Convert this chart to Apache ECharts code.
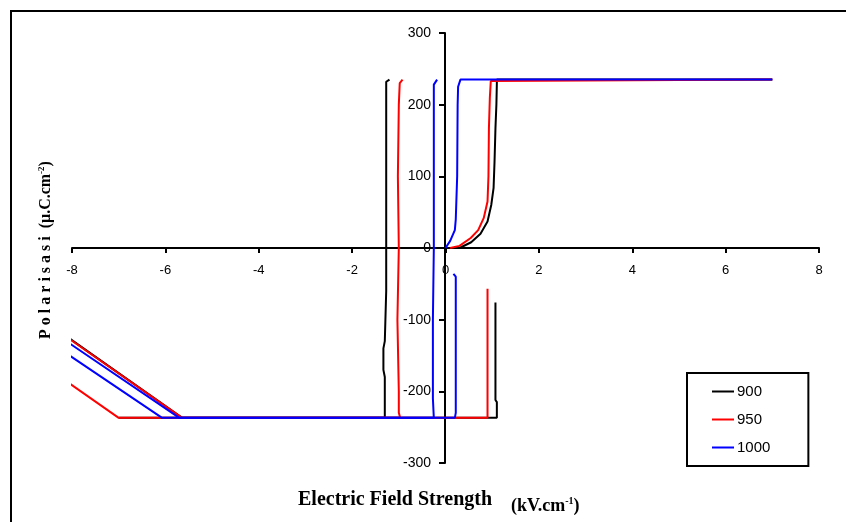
<!DOCTYPE html>
<html>
<head>
<meta charset="utf-8">
<script src="https://cdn.jsdelivr.net/npm/echarts@6/dist/echarts.min.js"></script>
<style>
  html, body { margin: 0; padding: 0; background: #fff; }
  #chart { width: 846px; height: 522px; }
</style>
</head>
<body>
<div id="chart"></div>
<script>
// x ticks and y ticks
const xTicks = [-8, -6, -4, -2, 0, 2, 4, 6, 8];
const yTicks = [-300, -200, -100, 0, 100, 200, 300];
const seriesNames = ['900', '950', '1000'];

// 900 (black) - loop segments [E, P]
const loop900a = [[0, 0], [0.3, 0], [0.55, 8], [0.75, 20], [0.9, 37], [0.98, 60], [1.03, 84], [1.05, 120],
  [1.07, 167], [1.09, 200], [1.1, 230], [1.1, 235], [7, 235]];
const loop900b = [[-1.2, 235], [-1.27, 232], [-1.27, 150], [-1.27, 20], [-1.27, -60], [-1.3, -130],
  [-1.33, -140], [-1.33, -170], [-1.3, -180], [-1.3, -237], [-5.64, -237], [-8.1, -124]];
const loop900c = [[-7.0, -237], [1.1, -237], [1.1, -215], [1.07, -212], [1.07, -76]];

// 950 (red)
const loop950a = [[0.1, 0], [0.3, 3], [0.54, 14], [0.7, 25], [0.82, 42], [0.9, 65], [0.92, 100],
  [0.93, 167], [0.95, 210], [0.97, 233], [0.97, 235], [7, 235]];
const loop950b = [[-0.92, 235], [-0.98, 230], [-1.0, 200], [-1.02, 100], [-1.0, 0], [-1.03, -100],
  [-1.0, -200], [-1.0, -230], [-0.97, -237], [-5.64, -237], [-8.1, -125]];
const loop950c = [[-8.1, -187], [-7.0, -237], [0.9, -237], [0.9, -57]];

// 1000 (blue)
const loop1000a = [[0, 0], [0.1, 10], [0.2, 25], [0.22, 40], [0.25, 100], [0.26, 200], [0.27, 225],
  [0.32, 235], [7, 235]];
const loop1000b = [[-0.18, 235], [-0.25, 228], [-0.25, 100], [-0.25, 0], [-0.27, -100], [-0.27, -210],
  [-0.25, -237], [-5.7, -237], [-8.1, -131]];
const loop1000c = [[-8.1, -148], [-6.07, -237], [0.2, -237], [0.22, -230], [0.22, -40], [0.17, -36]];

const colors = ['#000000', '#ff0000', '#0000ff'];
const segments = [
  [loop900a, loop900b, loop900c],
  [loop950a, loop950b, loop950c],
  [loop1000a, loop1000b, loop1000c]
];

const series = [];
segments.forEach((segs, i) => {
  segs.forEach(d => {
    series.push({
      name: seriesNames[i],
      type: 'line',
      data: d,
      showSymbol: false,
      symbol: 'none',
      lineStyle: { color: colors[i], width: 2 },
      itemStyle: { color: colors[i] },
      animation: false
    });
  });
});

// grid is 746 x 430 px, the axes cross in the middle
const chart = echarts.init(document.getElementById('chart'));
const option = {
  animation: false,
  color: colors,
  grid: { left: 72, right: 27, top: 33, bottom: 59, outerBoundsMode: 'none' },
  xAxis: {
    type: 'value',
    min: xTicks[0],
    max: xTicks[xTicks.length - 1],
    interval: 2,
    offset: -215,
    axisLine: { onZero: false, lineStyle: { color: '#000', width: 2 } },
    axisTick: { show: true, length: 5, inside: false, lineStyle: { color: '#000', width: 2 } },
    axisLabel: { color: '#000', fontFamily: 'Arial, Liberation Sans', fontSize: 13, margin: 16 },
    splitLine: { show: false }
  },
  yAxis: {
    type: 'value',
    min: yTicks[0],
    max: yTicks[yTicks.length - 1],
    interval: 100,
    offset: -373,
    axisLine: { onZero: false, lineStyle: { color: '#000', width: 2 } },
    axisTick: { show: true, length: 6, lineStyle: { color: '#000', width: 2 } },
    axisLabel: { color: '#000', fontFamily: 'Arial, Liberation Sans', fontSize: 14, margin: 14 },
    splitLine: { show: false }
  },
  legend: {
    data: seriesNames,
    orient: 'vertical',
    left: 687,
    top: 373,
    padding: [11, 38, 11, 25],
    itemGap: 13,
    itemWidth: 22,
    itemHeight: 2,
    icon: 'rect',
    borderColor: '#000',
    borderWidth: 2,
    borderRadius: 0,
    textStyle: { color: '#000', fontFamily: 'Arial, Liberation Sans', fontSize: 15, padding: [0, 0, 0, -2] }
  },
  graphic: [
    {
      type: 'rect',
      shape: { x: 11, y: 11, width: 900, height: 600 },
      style: { fill: 'none', stroke: '#000', lineWidth: 2 },
      silent: true
    },
    {
      type: 'text',
      x: 46,
      y: 250,
      rotation: Math.PI / 2,
      style: {
        text: '{a|P o l a r i s a s i  (μ.C.cm}{s|-2}{a|)}',
        align: 'center',
        verticalAlign: 'middle',
        rich: {
          a: { fontFamily: 'Liberation Serif', fontWeight: 'bold', fontSize: 16, fill: '#000' },
          s: { fontFamily: 'Liberation Serif', fontWeight: 'bold', fontSize: 9, fill: '#000', padding: [0, 0, 9, 0] }
        }
      }
    },
    {
      type: 'text',
      left: 298,
      top: 490,
      style: {
        text: 'Electric Field Strength',
        fontFamily: 'Liberation Serif',
        fontWeight: 'bold',
        fontSize: 20,
        fill: '#000'
      }
    },
    {
      type: 'text',
      left: 511,
      top: 496,
      style: {
        text: '{b|(kV.cm}{s|-1}{b|)}',
        rich: {
          b: { fontFamily: 'Liberation Serif', fontWeight: 'bold', fontSize: 18, fill: '#000' },
          s: { fontFamily: 'Liberation Serif', fontWeight: 'bold', fontSize: 10, fill: '#000', padding: [0, 0, 11, 0] }
        }
      }
    }
  ],
  series: series
};
chart.setOption(option);
</script>
</body>
</html>
